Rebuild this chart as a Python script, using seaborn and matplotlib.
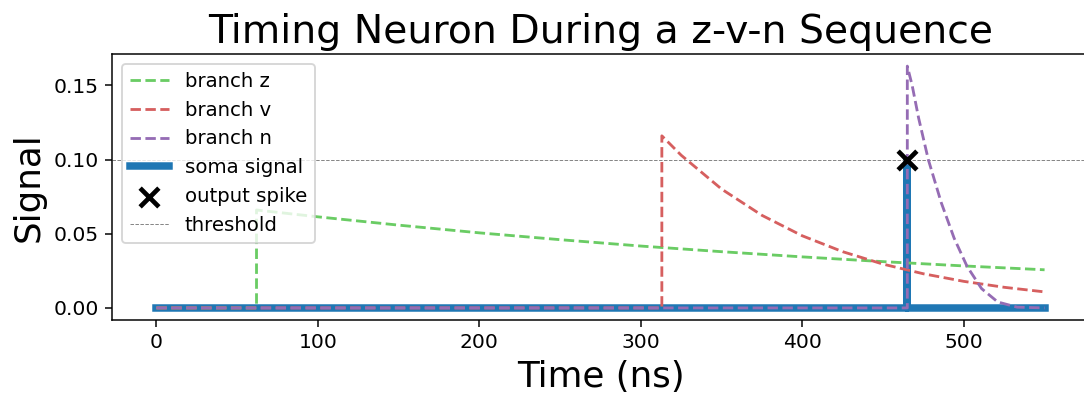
import matplotlib
matplotlib.use("Agg")
import matplotlib.pyplot as plt
import seaborn as sns
import pandas as pd

# Branch traces (time in ns, signal in arbitrary units)
z_time = [0, 62, 62, 100, 150, 200, 250, 300, 350, 400, 450, 500, 550]
z_signal = [0.0, 0.0, 0.066, 0.0614, 0.0558, 0.0506, 0.0460, 0.0417, 0.0379, 0.0344, 0.0312, 0.0283, 0.0257]

v_time = [0, 313, 313, 325, 350, 375, 400, 425, 450, 475, 500, 525, 550]
v_signal = [0.0, 0.0, 0.116, 0.1029, 0.0801, 0.0624, 0.0486, 0.0379, 0.0295, 0.0230, 0.0179, 0.0139, 0.0108]

n_time = [0, 465, 465, 468, 472, 478, 486, 494, 502, 511, 521, 533, 550]
n_signal = [0.0, 0.0, 0.163, 0.150, 0.128, 0.100, 0.071, 0.047, 0.028, 0.013, 0.004, 0.0005, 0.0]

# Soma response and output spike
soma_time = [0, 465, 465, 465, 550]
soma_signal = [0.0, 0.0, 0.1, 0.0, 0.0]
spike_time = [465]
spike_signal = [0.1]
threshold = 0.1

palette = sns.color_palette("muted")
branch_colors = {"z": palette[2], "v": palette[3], "n": palette[4]}

fig = plt.figure(figsize=(1084 / 135, 394 / 135), dpi=135)
ax = fig.add_axes([0.1033, 0.1878, 0.9013, 0.6751])

branches = [("z", z_time, z_signal), ("v", v_time, v_signal), ("n", n_time, n_signal)]
for name, t, s in branches:
    df = pd.DataFrame({"time": t, "signal": s})
    sns.lineplot(data=df, x="time", y="signal", ax=ax, estimator=None, sort=False,
                 color=branch_colors[name], linestyle="--", linewidth=1.5,
                 label=f"branch {name}", zorder=3)

soma_df = pd.DataFrame({"time": soma_time, "signal": soma_signal})
sns.lineplot(data=soma_df, x="time", y="signal", ax=ax, estimator=None, sort=False,
             color="#1f77b4", linewidth=4, label="soma signal", zorder=2)

ax.scatter(spike_time, spike_signal, marker="x", s=100, linewidths=2.5,
           color="black", label="output spike", zorder=5)
ax.axhline(threshold, color="gray", linestyle="--", linewidth=0.5, label="threshold")

ax.set_title("Timing Neuron During a z-v-n Sequence", fontsize=21)
ax.set_xlabel("Time (ns)", fontsize=19)
ax.set_ylabel("Signal", fontsize=19)
ax.set_yticks([0.0, 0.05, 0.10, 0.15])
ax.set_yticklabels(["0.00", "0.05", "0.10", "0.15"])
ax.tick_params(labelsize=10.8)
ax.legend(loc="upper left", fontsize=10.5)

fig.savefig("out.png", dpi=135)
